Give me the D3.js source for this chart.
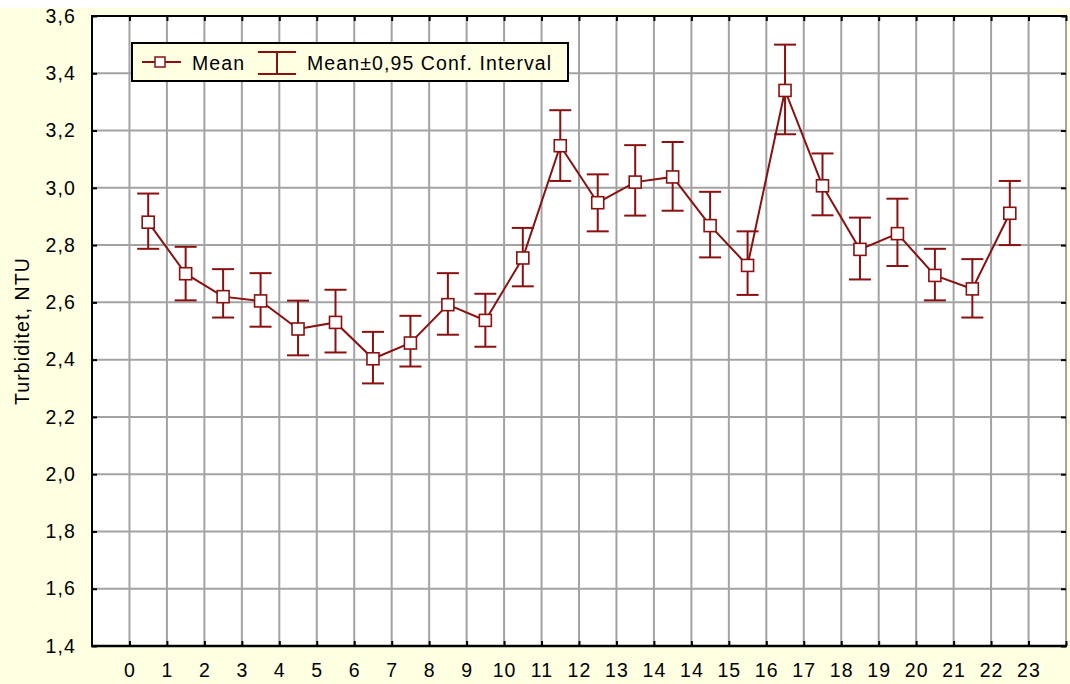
<!DOCTYPE html>
<html>
<head>
<meta charset="utf-8">
<script src="https://cdn.jsdelivr.net/npm/d3@7"></script>
<style>
  html, body { margin: 0; padding: 0; background: #ffffff; }
  svg { display: block; }
  text { font-family: "Liberation Sans", Arial, sans-serif; }
</style>
</head>
<body>
<svg id="chart" width="1070" height="684"></svg>
<script>
// ---- data ----
const xTickLabels = ["0","1","2","3","4","5","6","7","8","9","10","11","12","13","14","14","15","16","17","18","19","20","21","22","23"];
const means = [2.88, 2.70, 2.62, 2.605, 2.507, 2.53, 2.403, 2.458, 2.592, 2.537, 2.755, 3.147, 2.948, 3.02, 3.038, 2.868, 2.729, 3.34, 3.007, 2.785, 2.84, 2.694, 2.647, 2.911];
const upper = [2.98, 2.794, 2.716, 2.702, 2.606, 2.644, 2.497, 2.553, 2.702, 2.63, 2.86, 3.271, 3.047, 3.149, 3.16, 2.986, 2.848, 3.50, 3.12, 2.896, 2.962, 2.787, 2.751, 3.024];
const lower = [2.787, 2.607, 2.547, 2.515, 2.415, 2.425, 2.317, 2.376, 2.487, 2.445, 2.656, 3.024, 2.848, 2.903, 2.92, 2.757, 2.626, 3.187, 2.904, 2.68, 2.727, 2.607, 2.547, 2.80];
const yTicks = [1.4, 1.6, 1.8, 2.0, 2.2, 2.4, 2.6, 2.8, 3.0, 3.2, 3.4, 3.6];
const yTitle = "Turbiditet, NTU";
const legendLabels = ["Mean", "Mean\u00B10,95 Conf. Interval"];

// ---- layout ----
const W = 1070, H = 684;
const L = 92, R = 1066, T = 16, B = 646;
const RED = "#8b1010";
const BG = "#ffffe1";
const GRID = "#a3a3a3";
const FS = 19.5, LS = 1.1;

const svg = d3.select("#chart");
svg.append("rect").attr("x", 0).attr("y", 8).attr("width", W).attr("height", H - 8).attr("fill", BG);
svg.append("rect").attr("x", L).attr("y", T).attr("width", R - L).attr("height", B - T).attr("fill", "#ffffff");

const x = d3.scaleLinear().domain([-1, xTickLabels.length]).range([L, R]);
const y = d3.scaleLinear().domain([1.4, 3.6]).range([B, T]);
const xTickVals = d3.range(0, xTickLabels.length + 1);
const fmt = d => d3.format(".1f")(d).replace(".", ",");

// grid
const g = svg.append("g");
g.selectAll("line.vg").data(xTickVals).join("line")
  .attr("x1", d => x(d)).attr("x2", d => x(d)).attr("y1", T).attr("y2", B)
  .attr("stroke", GRID).attr("stroke-width", 2);
g.selectAll("line.hg").data(yTicks).join("line")
  .attr("x1", L).attr("x2", R).attr("y1", d => y(d)).attr("y2", d => y(d))
  .attr("stroke", GRID).attr("stroke-width", 2);

// axes
const axB = d3.axisBottom(x).tickValues(xTickVals).tickSize(-5)
  .tickFormat(d => (d < xTickLabels.length ? xTickLabels[d] : ""));
const axT = d3.axisTop(x).tickValues(xTickVals).tickSize(-5).tickFormat("");
const axL = d3.axisLeft(y).tickValues(yTicks).tickSize(-5).tickPadding(16).tickFormat(fmt);
const axR = d3.axisRight(y).tickValues(yTicks).tickSize(-5).tickFormat("");

function styleAxis(sel) {
  sel.select(".domain").remove();
  sel.selectAll(".tick line").attr("stroke", "#000").attr("stroke-width", 2);
  sel.selectAll(".tick text").attr("fill", "#000").style("font-size", FS + "px")
    .style("letter-spacing", LS + "px").attr("font-family", null);
}
svg.append("g").attr("transform", `translate(0,${B})`).call(axB).call(styleAxis)
  .selectAll(".tick text").attr("y", 31).attr("dy", 0);
svg.append("g").attr("transform", `translate(0,${T})`).call(axT).call(styleAxis);
svg.append("g").attr("transform", `translate(${L},0)`).call(axL).call(styleAxis);
svg.append("g").attr("transform", `translate(${R},0)`).call(axR).call(styleAxis);

// frame
svg.append("line").attr("x1", L).attr("x2", L).attr("y1", T - 1).attr("y2", B + 1).attr("stroke", "#000").attr("stroke-width", 2);
svg.append("line").attr("x1", L - 1).attr("x2", R + 1).attr("y1", B).attr("y2", B).attr("stroke", "#000").attr("stroke-width", 2.5);
svg.append("line").attr("x1", L - 1).attr("x2", R + 1).attr("y1", T).attr("y2", T).attr("stroke", "#000").attr("stroke-width", 2);

// y title
svg.append("text").attr("transform", `translate(29,${(T + B) / 2}) rotate(-90)`)
  .attr("text-anchor", "middle").style("font-size", FS + "px").style("letter-spacing", LS + "px")
  .attr("fill", "#000").text(yTitle);

// data
const pts = means.map((m, i) => ({ i: i + 0.5, m, lo: lower[i], hi: upper[i] }));
const CAP = 11, MS = 12;
const eb = svg.append("g").attr("stroke", RED).attr("stroke-width", 2).attr("fill", "none");
eb.selectAll("line.v").data(pts).join("line")
  .attr("x1", d => x(d.i)).attr("x2", d => x(d.i)).attr("y1", d => y(d.hi)).attr("y2", d => y(d.lo));
eb.selectAll("line.u").data(pts).join("line")
  .attr("x1", d => x(d.i) - CAP).attr("x2", d => x(d.i) + CAP).attr("y1", d => y(d.hi)).attr("y2", d => y(d.hi));
eb.selectAll("line.l").data(pts).join("line")
  .attr("x1", d => x(d.i) - CAP).attr("x2", d => x(d.i) + CAP).attr("y1", d => y(d.lo)).attr("y2", d => y(d.lo));

svg.append("path").datum(pts)
  .attr("d", d3.line().x(d => x(d.i)).y(d => y(d.m)))
  .attr("fill", "none").attr("stroke", RED).attr("stroke-width", 2);

svg.append("g").selectAll("rect").data(pts).join("rect")
  .attr("x", d => x(d.i) - MS / 2).attr("y", d => y(d.m) - MS / 2)
  .attr("width", MS).attr("height", MS)
  .attr("fill", "#fff").attr("stroke", RED).attr("stroke-width", 1.6);

// legend
const lg = svg.append("g");
lg.append("rect").attr("x", 132).attr("y", 43).attr("width", 436).attr("height", 38)
  .attr("fill", BG).attr("stroke", "#000").attr("stroke-width", 2);
lg.append("line").attr("x1", 142).attr("x2", 181).attr("y1", 62).attr("y2", 62).attr("stroke", RED).attr("stroke-width", 2);
lg.append("rect").attr("x", 155).attr("y", 57).attr("width", 10).attr("height", 10)
  .attr("fill", "#fff").attr("stroke", RED).attr("stroke-width", 1.5);
lg.append("text").attr("x", 192).attr("y", 70).style("font-size", FS + "px").style("letter-spacing", LS + "px").text(legendLabels[0]);
lg.append("line").attr("x1", 277).attr("x2", 277).attr("y1", 52).attr("y2", 74).attr("stroke", RED).attr("stroke-width", 2);
lg.append("line").attr("x1", 258).attr("x2", 296).attr("y1", 52).attr("y2", 52).attr("stroke", RED).attr("stroke-width", 2);
lg.append("line").attr("x1", 258).attr("x2", 296).attr("y1", 74).attr("y2", 74).attr("stroke", RED).attr("stroke-width", 2);
lg.append("text").attr("x", 307).attr("y", 70).style("font-size", FS + "px").style("letter-spacing", LS + "px").text(legendLabels[1]);
</script>
</body>
</html>
